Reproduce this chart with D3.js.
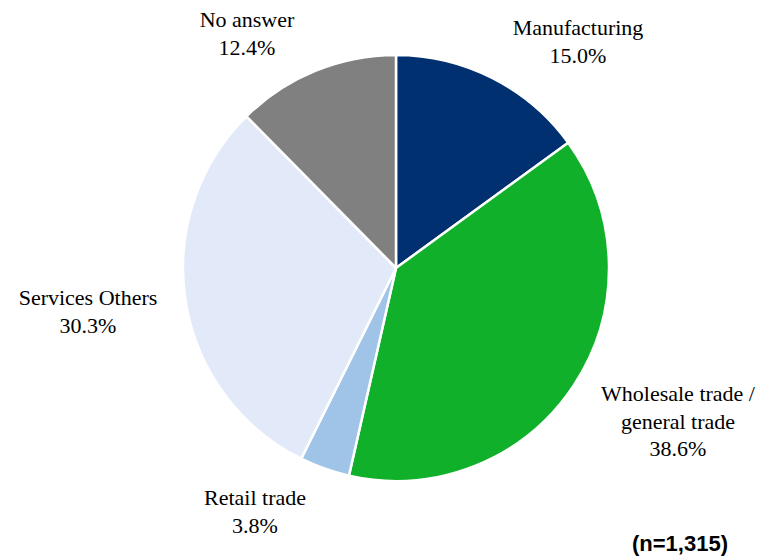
<!DOCTYPE html>
<html><head><meta charset="utf-8">
<script src="https://cdn.jsdelivr.net/npm/d3@7"></script>
<style>body{margin:0;background:#fff}
.lbl{font-family:'Liberation Serif','Tinos','Times New Roman','DejaVu Serif',serif;font-size:22px;fill:#000}
.note{font-family:'Liberation Sans',Arial,sans-serif;font-weight:bold;font-size:22px;fill:#000}
</style>
</head><body>
<svg id="c" width="762" height="557"></svg>
<script>
const categories = ["Manufacturing", "Wholesale trade / general trade", "Retail trade", "Services Others", "No answer"];
const values = [15.0, 38.6, 3.8, 30.3, 12.4];
const colors = ["#003070", "#10B02A", "#A0C4E8", "#E2EAFA", "#808080"];
const labelLines = [["Manufacturing"], ["Wholesale trade /", "general trade"], ["Retail trade"], ["Services Others"], ["No answer"]];
const labelPos = [[578, 35], [678, 401], [255, 505], [88, 305], [247, 27]];
const note = "(n=1,315)";

const svg = d3.select("#c");
const cx = 396, cy = 268, r = 213;
const pie = d3.pie().sort(null).value(d => d)(values);
const arc = d3.arc().innerRadius(0).outerRadius(r);
const g = svg.append("g").attr("transform", `translate(${cx},${cy})`);
g.selectAll("path").data(pie).join("path")
  .attr("d", arc).attr("fill", (d, i) => colors[i])
  .attr("stroke", "#fff").attr("stroke-width", 2.5).attr("stroke-linejoin", "round");

const lh = 27.5;
labelLines.forEach((lines, i) => {
  const t = svg.append("text").attr("class", "lbl").attr("x", labelPos[i][0]).attr("y", labelPos[i][1])
    .attr("text-anchor", "middle");
  const all = lines.concat([values[i].toFixed(1) + "%"]);
  all.forEach((l, j) => t.append("tspan").attr("x", labelPos[i][0]).attr("dy", j === 0 ? 0 : lh).text(l));
});
svg.append("text").attr("class", "note").attr("x", 728).attr("y", 551).attr("text-anchor", "end").text(note);
</script>
</body></html>
